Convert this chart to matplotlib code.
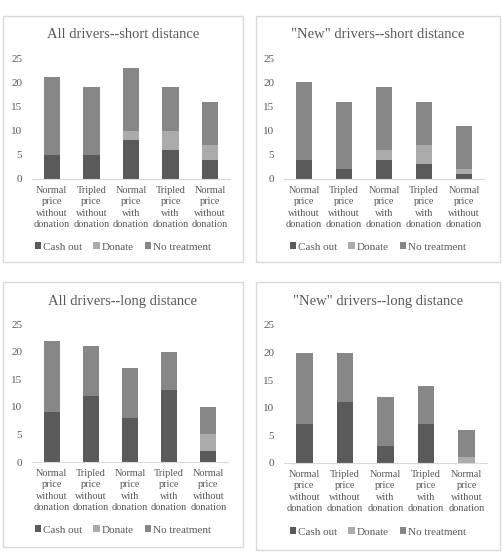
import matplotlib
matplotlib.use("Agg")
import matplotlib.pyplot as plt
from matplotlib.patches import Rectangle, Patch

plt.rcParams["font.family"] = ["Liberation Serif", "DejaVu Serif"]

categories = [
    "Normal\nprice\nwithout\ndonation",
    "Tripled\nprice\nwithout\ndonation",
    "Normal\nprice\nwith\ndonation",
    "Tripled\nprice\nwith\ndonation",
    "Normal\nprice\nwithout\ndonation",
]
series = ["Cash out", "Donate", "No treatment"]
colors = ["#5a5a5a", "#ababab", "#878787"]

titles = [
    "All drivers--short distance",
    '"New" drivers--short distance',
    "All drivers--long distance",
    '"New" drivers--long distance',
]

all_short_cash = [5, 5, 8, 6, 4]
all_short_donate = [0, 0, 2, 4, 3]
all_short_none = [16, 14, 13, 9, 9]

new_short_cash = [4, 2, 4, 3, 1]
new_short_donate = [0, 0, 2, 4, 1]
new_short_none = [16, 14, 13, 9, 9]

all_long_cash = [9, 12, 8, 13, 2]
all_long_donate = [0, 0, 0, 0, 3]
all_long_none = [13, 9, 9, 7, 5]

new_long_cash = [7, 11, 3, 7, 0]
new_long_donate = [0, 0, 0, 0, 1]
new_long_none = [13, 9, 9, 7, 5]

data = [
    (all_short_cash, all_short_donate, all_short_none),
    (new_short_cash, new_short_donate, new_short_none),
    (all_long_cash, all_long_donate, all_long_none),
    (new_long_cash, new_long_donate, new_long_none),
]

W, H = 503, 557
fig = plt.figure(figsize=(W / 100, H / 100), dpi=100)

# panel frames (x0, y0, x1, y1) in pixels from top-left
frames = [(3, 16, 243, 262), (256, 16, 500, 262), (3, 282, 243, 547), (256, 282, 500, 550)]
# plot areas (x0, x1, y_zero, y_25)
areas = [(32, 230, 179, 58), (284, 484, 179, 58), (32, 228, 462, 324), (284, 487, 463, 325)]
title_y = [35, 35, 301, 301]
legend_y = [247, 247, 530, 532]


def px(x0, y0, x1, y1):
    return [x0 / W, 1 - y1 / H, (x1 - x0) / W, (y1 - y0) / H]


for i in range(4):
    fx0, fy0, fx1, fy1 = frames[i]
    fig.patches.append(Rectangle((fx0 / W, 1 - fy1 / H), (fx1 - fx0) / W, (fy1 - fy0) / H,
                                 transform=fig.transFigure, fill=False,
                                 edgecolor="#d9d9d9", linewidth=1))
    ax0, ax1, yz, y25 = areas[i]
    ax = fig.add_axes(px(ax0, y25, ax1, yz))
    cash, donate, none = data[i]
    x = range(len(categories))
    bottom = [0] * len(categories)
    for vals, c, name in zip((cash, donate, none), colors, series):
        ax.bar(x, vals, 0.41, bottom=bottom, color=c, label=name)
        bottom = [b + v for b, v in zip(bottom, vals)]
    ax.set_ylim(0, 25)
    ax.set_xlim(-0.5, len(categories) - 0.5)
    ax.set_yticks([0, 5, 10, 15, 20, 25])
    ax.set_xticks(list(x))
    ax.set_xticklabels(categories, fontsize=7.4, color="#595959", linespacing=1.35)
    ax.tick_params(axis="y", length=0, labelsize=8, labelcolor="#595959", pad=7)
    ax.tick_params(axis="x", length=0, pad=5)
    for s in ["top", "right", "left"]:
        ax.spines[s].set_visible(False)
    ax.spines["bottom"].set_color("#d9d9d9")
    ax.patch.set_alpha(0)
    cx = (fx0 + fx1) / 2
    fig.text(cx / W, 1 - title_y[i] / H, titles[i], ha="center", va="center",
             fontsize=10.5, color="#595959")
    handles = [Patch(facecolor=c, label=n) for c, n in zip(colors, series)]
    fig.legend(handles=handles, loc="center", bbox_to_anchor=(cx / W, 1 - legend_y[i] / H),
               ncol=3, frameon=False, fontsize=8, handlelength=0.55, handleheight=0.55,
               handletextpad=0.2, columnspacing=1.0, labelcolor="#595959")

fig.savefig("out.png", dpi=100, facecolor="white")
